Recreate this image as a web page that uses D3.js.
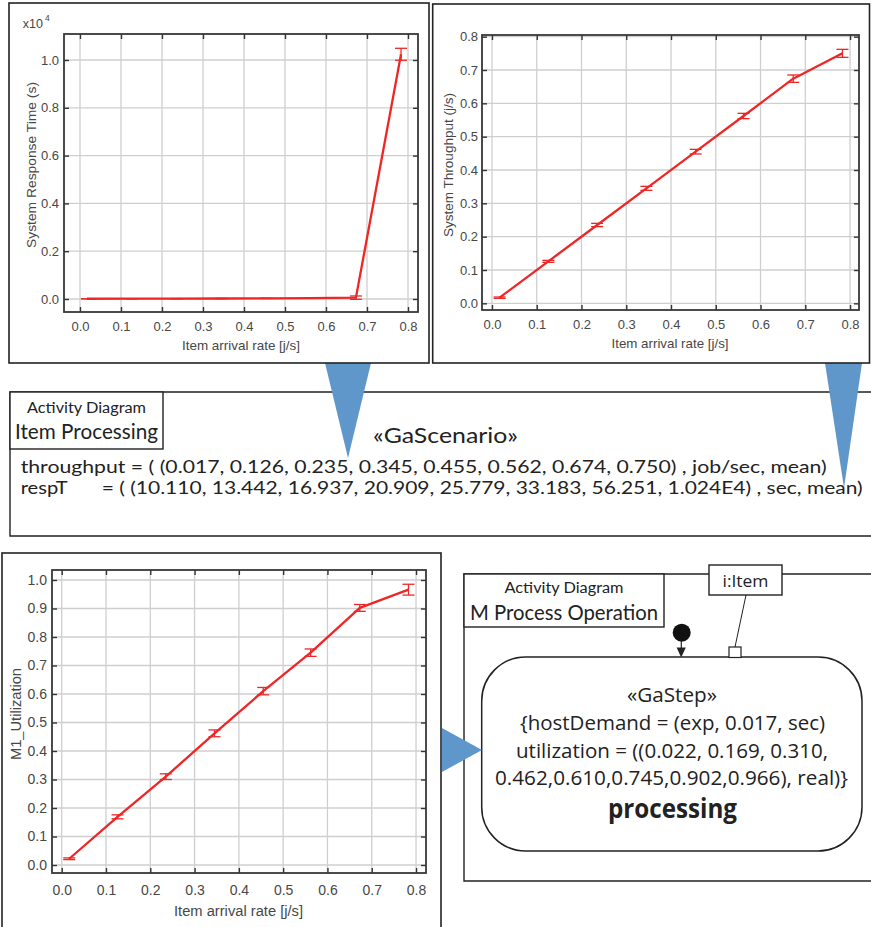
<!DOCTYPE html>
<html>
<head>
<meta charset="utf-8">
<script src="https://cdn.jsdelivr.net/npm/d3@7"></script>
<style>
  body { margin: 0; background: #fff; }
  svg { display: block; }
</style>
</head>
<body>
<svg id="fig" width="871" height="927"></svg>
<script>
// Measured simulation results per arrival rate
const arrivalRate    = [0.017, 0.126, 0.235, 0.345, 0.455, 0.562, 0.673, 0.783];
const throughput     = [0.017, 0.126, 0.235, 0.345, 0.455, 0.562, 0.674, 0.750];
const throughputErr  = [0.002, 0.003, 0.005, 0.006, 0.007, 0.008, 0.011, 0.012];
const respT          = [10.110, 13.442, 16.937, 20.909, 25.779, 33.183, 56.251, 10240];
const respTErr       = [1, 1, 2, 2, 3, 5, 70, 250];
const utilization    = [0.022, 0.169, 0.310, 0.462, 0.610, 0.745, 0.902, 0.966];
const utilizationErr = [0.003, 0.007, 0.010, 0.012, 0.013, 0.013, 0.012, 0.019];

// Axis ticks
const rateTicks       = [0, 0.1, 0.2, 0.3, 0.4, 0.5, 0.6, 0.7, 0.8];
const respTicks       = [0, 2000, 4000, 6000, 8000, 10000];
const throughputTicks = [0, 0.1, 0.2, 0.3, 0.4, 0.5, 0.6, 0.7, 0.8];
const utilTicks       = [0, 0.1, 0.2, 0.3, 0.4, 0.5, 0.6, 0.7, 0.8, 0.9, 1.0];

const svg = d3.select('#fig');
svg.append('rect').attr('width', 871).attr('height', 927).attr('fill', '#fff');

const RED = '#ef2626';
const INK = '#222';
const BLUE = '#5f97cb';
const AXIS_FONT = "'Liberation Sans', Arial, sans-serif";
const DIAG_FONT = "Lato, 'Open Sans', sans-serif";
const STEP_FONT = "'Open Sans', 'Noto Sans', sans-serif";

function fitText(g, str, opts) {
  const t = g.append('text')
    .attr('x', opts.x).attr('y', opts.y)
    .attr('font-family', opts.family)
    .attr('font-size', opts.size)
    .attr('fill', opts.fill || INK)
    .attr('text-anchor', opts.anchor || 'start')
    .text(str);
  if (opts.weight) t.attr('font-weight', opts.weight);
  if (opts.width) t.attr('textLength', opts.width).attr('lengthAdjust', 'spacingAndGlyphs');
  return t;
}

// ---------- line chart with error bars ----------
function chart(o) {
  const g = svg.append('g');
  const x = d3.scaleLinear().domain(o.xDomain).range([o.left, o.right]);
  const y = d3.scaleLinear().domain(o.yDomain).range([o.bottom, o.top]);

  // grid
  g.append('g').selectAll('line').data(rateTicks).join('line')
    .attr('x1', d => x(d)).attr('x2', d => x(d))
    .attr('y1', o.top).attr('y2', o.bottom)
    .attr('stroke', '#cfcfcf').attr('stroke-width', 1.3);
  g.append('g').selectAll('line').data(o.yTicks).join('line')
    .attr('y1', d => y(d)).attr('y2', d => y(d))
    .attr('x1', o.left).attr('x2', o.right)
    .attr('stroke', '#cfcfcf').attr('stroke-width', 1.3);

  const fmt = o.fmt || d3.format('.1f');
  const axes = [
    g.append('g').attr('transform', `translate(0,${o.bottom})`)
      .call(d3.axisBottom(x).tickValues(rateTicks).tickFormat(d3.format('.1f')).tickSize(-5).tickPadding(o.xPad)),
    g.append('g').attr('transform', `translate(0,${o.top})`)
      .call(d3.axisTop(x).tickValues(rateTicks).tickFormat('').tickSize(-5)),
    g.append('g').attr('transform', `translate(${o.left},0)`)
      .call(d3.axisLeft(y).tickValues(o.yTicks).tickFormat(fmt).tickSize(-5).tickPadding(o.yPad)),
    g.append('g').attr('transform', `translate(${o.right},0)`)
      .call(d3.axisRight(y).tickValues(o.yTicks).tickFormat('').tickSize(-5))
  ];
  axes.forEach(a => {
    a.select('.domain').remove();
    a.selectAll('.tick line').attr('stroke', '#333').attr('stroke-width', 1.4);
    a.selectAll('.tick text')
      .attr('font-family', AXIS_FONT).attr('font-size', o.font).attr('fill', '#474747');
  });

  // frame
  g.append('rect')
    .attr('x', o.left).attr('y', o.top)
    .attr('width', o.right - o.left).attr('height', o.bottom - o.top)
    .attr('fill', 'none').attr('stroke', '#383838').attr('stroke-width', 1.8);

  // series line
  const pts = arrivalRate.map((r, i) => ({ r, v: o.values[i], e: o.errors[i] }));
  g.append('path').datum(pts)
    .attr('d', d3.line().x(d => x(d.r)).y(d => y(d.v)))
    .attr('fill', 'none').attr('stroke', RED).attr('stroke-width', 2.3)
    .attr('stroke-linejoin', 'round');

  // error bars
  const eb = g.append('g').attr('stroke', RED).attr('stroke-width', 1.3).attr('fill', 'none');
  eb.selectAll('line.v').data(pts).join('line').attr('class', 'v')
    .attr('x1', d => x(d.r)).attr('x2', d => x(d.r))
    .attr('y1', d => y(d.v - d.e)).attr('y2', d => y(d.v + d.e));
  [1, -1].forEach(s => {
    eb.selectAll('line.c' + (s > 0 ? 'p' : 'm')).data(pts).join('line')
      .attr('class', 'c' + (s > 0 ? 'p' : 'm'))
      .attr('x1', d => x(d.r) - 6).attr('x2', d => x(d.r) + 6)
      .attr('y1', d => y(d.v + s * d.e)).attr('y2', d => y(d.v + s * d.e));
  });

  // axis titles
  g.append('text')
    .attr('x', o.xTitle.x).attr('y', o.xTitle.y)
    .attr('text-anchor', 'middle')
    .attr('font-family', AXIS_FONT).attr('font-size', o.font).attr('fill', '#474747')
    .attr('textLength', o.xTitle.w).attr('lengthAdjust', 'spacingAndGlyphs')
    .text('Item arrival rate [j/s]');
  g.append('text')
    .attr('transform', `translate(${o.yTitle.x},${o.yTitle.y}) rotate(-90)`)
    .attr('text-anchor', 'middle')
    .attr('font-family', AXIS_FONT).attr('font-size', o.font).attr('fill', '#474747')
    .attr('textLength', o.yTitle.w).attr('lengthAdjust', 'spacingAndGlyphs')
    .text(o.yLabel);
  return g;
}

// ---------- middle: Item Processing activity ----------
const mid = svg.append('g');
mid.append('path')
  .attr('d', 'M871,392 H10 V536 H871')
  .attr('fill', 'none').attr('stroke', INK).attr('stroke-width', 1.4);
mid.append('rect').attr('x', 10).attr('y', 392).attr('width', 153).attr('height', 57)
  .attr('fill', '#fff').attr('stroke', INK).attr('stroke-width', 1.4);
fitText(mid, 'Activity Diagram', { x: 86.5, y: 413, size: 15.5, family: DIAG_FONT, anchor: 'middle', width: 119 });
fitText(mid, 'Item Processing', { x: 86.5, y: 439, size: 21, family: DIAG_FONT, anchor: 'middle', width: 143 });
fitText(mid, '\u00abGaScenario\u00bb', { x: 373, y: 443, size: 21, family: DIAG_FONT, width: 145 });

const f3 = d3.format('.3f');
const thrText = 'throughput = ( (' + throughput.map(f3).join(', ') + ') , job/sec, mean)';
const respText = '= ( (' + respT.map(v => v >= 1000 ? (v / 1e4).toFixed(3) + 'E4' : f3(v)).join(', ') + ') , sec, mean)';
fitText(mid, thrText, { x: 20.7, y: 473, size: 17, family: DIAG_FONT, width: 806 });
fitText(mid, 'respT', { x: 20.7, y: 494, size: 17, family: DIAG_FONT, width: 47 });
fitText(mid, respText, { x: 101.7, y: 494, size: 17, family: DIAG_FONT, width: 761 });

// ---------- bottom right: M Process Operation activity ----------
const act = svg.append('g');
act.append('path').attr('d', 'M871,574 H464 V881 H871')
  .attr('fill', 'none').attr('stroke', INK).attr('stroke-width', 1.4);
act.append('rect').attr('x', 464).attr('y', 574).attr('width', 200).attr('height', 53)
  .attr('fill', '#fff').attr('stroke', INK).attr('stroke-width', 1.4);
fitText(act, 'Activity Diagram', { x: 564, y: 593.3, size: 15.5, family: DIAG_FONT, anchor: 'middle', width: 119 });
fitText(act, 'M Process Operation', { x: 564, y: 620, size: 22, family: DIAG_FONT, anchor: 'middle', width: 188 });

// object pin
act.append('line').attr('x1', 746).attr('y1', 595).attr('x2', 735).attr('y2', 647)
  .attr('stroke', INK).attr('stroke-width', 1);
act.append('rect').attr('x', 709).attr('y', 565).attr('width', 73).attr('height', 30)
  .attr('fill', '#fff').attr('stroke', INK).attr('stroke-width', 1.4);
fitText(act, 'i:Item', { x: 745.5, y: 586.7, size: 16.5, family: STEP_FONT, anchor: 'middle', width: 46 });

// initial node and flow
act.append('circle').attr('cx', 681.7).attr('cy', 632.7).attr('r', 9).attr('fill', '#111');
act.append('line').attr('x1', 681.3).attr('y1', 640).attr('x2', 681.3).attr('y2', 650)
  .attr('stroke', INK).attr('stroke-width', 1.2);
act.append('path').attr('d', 'M676.6,647.5 L685.8,647.5 L681.2,657.5 Z').attr('fill', INK);

// action node
act.append('rect').attr('x', 481.7).attr('y', 657).attr('width', 380.3).attr('height', 194)
  .attr('rx', 44).attr('ry', 44)
  .attr('fill', '#fff').attr('stroke', INK).attr('stroke-width', 1.5);
act.append('rect').attr('x', 729).attr('y', 647).attr('width', 12).attr('height', 10.5)
  .attr('fill', '#fff').attr('stroke', INK).attr('stroke-width', 1.2);

const utilA = utilization.slice(0, 3).map(f3).join(', ');
const utilB = utilization.slice(3).map(f3).join(',');
fitText(act, '\u00abGaStep\u00bb', { x: 672, y: 702, size: 19.5, family: STEP_FONT, anchor: 'middle', width: 90 });
fitText(act, '{hostDemand  = (exp, 0.017, sec)', { x: 672.5, y: 730, size: 19.5, family: STEP_FONT, anchor: 'middle', width: 305 });
fitText(act, 'utilization = ((' + utilA + ',', { x: 672, y: 757.5, size: 19.5, family: STEP_FONT, anchor: 'middle', width: 312 });
fitText(act, utilB + '), real)}', { x: 671.5, y: 785, size: 19.5, family: STEP_FONT, anchor: 'middle', width: 353 });
fitText(act, 'processing', { x: 672.5, y: 818.3, size: 26, family: STEP_FONT, anchor: 'middle', width: 129, weight: 'bold' });

// ---------- callout pointers ----------
const ptr = svg.append('g').attr('fill', BLUE);
ptr.append('path').attr('d', 'M325,363 L371,363 L348,458 Z');
ptr.append('path').attr('d', 'M825,363 L862,363 L844,488 Z');
ptr.append('path').attr('d', 'M442,728 L442,772 L482,750 Z');

// ---------- chart panels ----------
svg.append('rect').attr('x', 9).attr('y', 3).attr('width', 420).attr('height', 360)
  .attr('fill', '#fff').attr('stroke', INK).attr('stroke-width', 1.6);
svg.append('rect').attr('x', 432.7).attr('y', 4).attr('width', 436.8).attr('height', 359)
  .attr('fill', '#fff').attr('stroke', INK).attr('stroke-width', 1.6);
svg.append('rect').attr('x', 2).attr('y', 553).attr('width', 439).attr('height', 390)
  .attr('fill', '#fff').attr('stroke', INK).attr('stroke-width', 1.6);

// System response time
chart({
  left: 64, right: 418, top: 34, bottom: 312,
  xDomain: [-0.039, 0.8244], yDomain: [-544, 11088],
  yTicks: respTicks, fmt: d => (d / 1e4).toFixed(1),
  values: respT, errors: respTErr,
  font: 13, xPad: 10, yPad: 5,
  yLabel: 'System Response Time (s)',
  xTitle: { x: 241, y: 350, w: 118 },
  yTitle: { x: 36, y: 165, w: 166 }
});
const exp = svg.append('text').attr('font-family', AXIS_FONT).attr('font-size', 12.5).attr('fill', '#474747');
exp.append('tspan').attr('x', 22.7).attr('y', 28.3).text('x10');
exp.append('tspan').attr('x', 45).attr('y', 21).attr('font-size', 8.5).text('4');

// System throughput
chart({
  left: 482, right: 859, top: 35, bottom: 310,
  xDomain: [-0.0223, 0.820], yDomain: [-0.020, 0.805],
  yTicks: throughputTicks,
  values: throughput, errors: throughputErr,
  font: 13, xPad: 10, yPad: 4,
  yLabel: 'System Throughput (j/s)',
  xTitle: { x: 670, y: 348, w: 117 },
  yTitle: { x: 453, y: 165, w: 144 }
});

// M1 utilization
chart({
  left: 52, right: 426, top: 570, bottom: 873,
  xDomain: [-0.0219, 0.8225], yDomain: [-0.028, 1.035],
  yTicks: utilTicks,
  values: utilization, errors: utilizationErr,
  font: 14, xPad: 12, yPad: 5,
  yLabel: 'M1_Utilization',
  xTitle: { x: 238.5, y: 916, w: 129 },
  yTitle: { x: 21, y: 714, w: 92 }
});
</script>
</body>
</html>
